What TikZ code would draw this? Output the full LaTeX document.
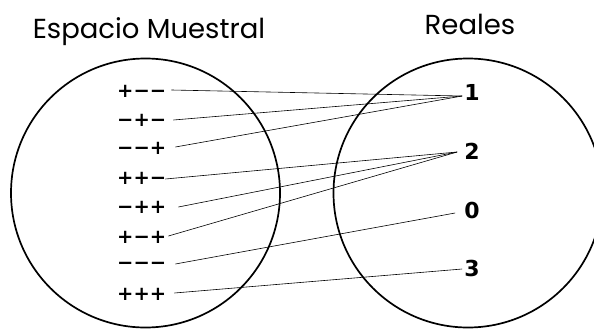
\documentclass[tikz,border=0pt]{standalone}
\usepackage{fontspec}
\setmainfont{Poppins}
\newfontfamily\labfont{DejaVu Sans}
\begin{document}
\begin{tikzpicture}[x=1pt,y=-1pt,
  title/.style={font=\fontsize{27.5}{27.5}\selectfont, anchor=base, inner sep=0pt},
  outcome/.style={font=\labfont\bfseries\fontsize{19.5}{19.5}\selectfont, anchor=west, inner sep=0pt},
  value/.style={font=\labfont\bfseries\fontsize{22}{22}\selectfont, inner sep=0pt},
  set/.style={draw, circle, line width=1.7pt, minimum size=269pt, inner sep=0pt},
  map/.style={line width=0.6pt}]
\useasboundingbox (0,0) rectangle (594,329);
% sets
\node[set] (sample) at (145.5,193) {};
\node[set] (reals) at (468,193) {};
% titles
\node[title] (tsample) at (149,38) {Espacio Muestral};
\node[title] (treals) at (470,35) {Reales};
% outcomes
\node[outcome] (o1) at (117,91) {+−−};
\node[outcome] (o2) at (117,120) {−+−};
\node[outcome] (o3) at (117,148) {−−+};
\node[outcome] (o4) at (117,178) {++−};
\node[outcome] (o5) at (117,207) {−++};
\node[outcome] (o6) at (117,237) {+−+};
\node[outcome] (o7) at (117,266) {−−−};
\node[outcome] (o8) at (117,294) {+++};
% values
\node[value] (v1) at (472,92) {1};
\node[value] (v2) at (472,151) {2};
\node[value] (v0) at (472,210) {0};
\node[value] (v3) at (472,268) {3};
% mapping
\draw[map] ([shift={(5,-1)}]o1.east) -- ([shift={(-2,4)}]v1.west);
\draw[map] ([shift={(7,0)}]o2.east) -- ([shift={(-2,4)}]v1.west);
\draw[map] ([shift={(9,-1)}]o3.east) -- ([shift={(-2,4)}]v1.west);
\draw[map] ([shift={(-1,1)}]o4.east) -- ([shift={(-7,1)}]v2.west);
\draw[map] ([shift={(12,0)}]o5.east) -- ([shift={(-7,1)}]v2.west);
\draw[map] ([shift={(2,-1)}]o6.east) -- ([shift={(-7,1)}]v2.west);
\draw[map] ([shift={(9,-2)}]o7.east) -- ([shift={(-9,3)}]v0.west);
\draw[map] ([shift={(8,-1)}]o8.east) -- ([shift={(-2,1)}]v3.west);
\end{tikzpicture}
\end{document}
